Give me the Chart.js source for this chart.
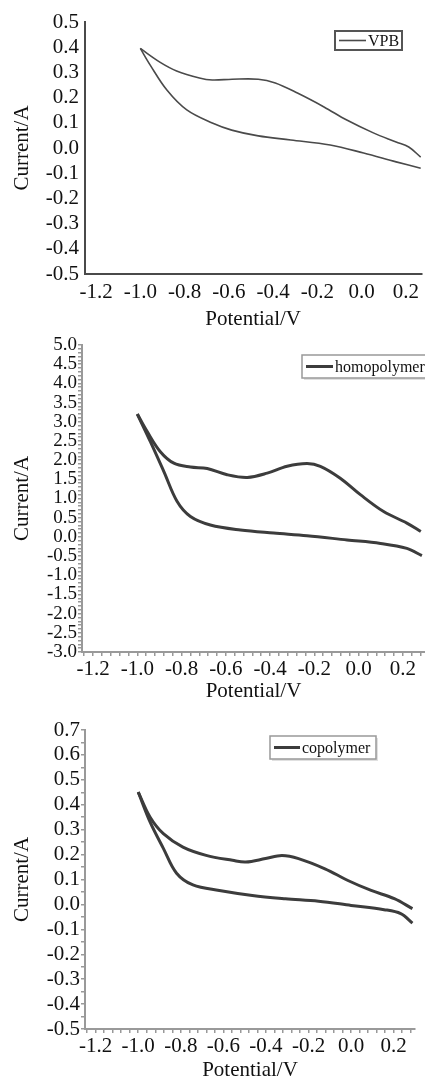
<!DOCTYPE html>
<html>
<head>
<meta charset="utf-8">
<script src="https://cdn.jsdelivr.net/npm/chart.js@4.4.1/dist/chart.umd.min.js"></script>
<style>
html, body { margin: 0; padding: 0; background: #fff; overflow: hidden; width: 425px; height: 1079px; }
canvas { position: absolute; left: 0; }
</style>
</head>
<body>
<canvas id="c1" width="425" height="332" style="top:0px"></canvas>
<canvas id="c2" width="425" height="372" style="top:332px"></canvas>
<canvas id="c3" width="425" height="383" style="top:700px"></canvas>
<script>
// tick labels
const xLabels = [-1.2, -1.0, -0.8, -0.6, -0.4, -0.2, 0.0, 0.2];
const yLabelsVpb = [-0.5, -0.4, -0.3, -0.2, -0.1, 0.0, 0.1, 0.2, 0.3, 0.4, 0.5];
const yLabelsHomo = [-3.0, -2.5, -2.0, -1.5, -1.0, -0.5, 0.0, 0.5, 1.0, 1.5, 2.0, 2.5, 3.0, 3.5, 4.0, 4.5, 5.0];
const yLabelsCo = [-0.5, -0.4, -0.3, -0.2, -0.1, 0.0, 0.1, 0.2, 0.3, 0.4, 0.5, 0.6, 0.7];

// VPB
const vpbUpperX = [-1.0, -0.91, -0.836, -0.733, -0.675, -0.585, -0.467, -0.39, -0.29, -0.17, -0.067, 0.053, 0.156, 0.213, 0.267];
const vpbUpperY = [0.395, 0.34, 0.306, 0.278, 0.27, 0.273, 0.273, 0.258, 0.218, 0.163, 0.111, 0.06, 0.024, 0.004, -0.036];
const vpbLowerX = [-1.0, -0.956, -0.88, -0.79, -0.675, -0.587, -0.467, -0.32, -0.142, 0.009, 0.156, 0.267];
const vpbLowerY = [0.395, 0.33, 0.23, 0.151, 0.099, 0.071, 0.048, 0.032, 0.012, -0.02, -0.055, -0.08];

// homopolymer
const homoUpperX = [-1.0, -0.956, -0.896, -0.835, -0.76, -0.684, -0.594, -0.503, -0.413, -0.323, -0.233, -0.173, -0.083, 0.008, 0.113, 0.218, 0.281];
const homoUpperY = [3.2, 2.75, 2.22, 1.92, 1.82, 1.78, 1.62, 1.55, 1.66, 1.84, 1.91, 1.84, 1.53, 1.1, 0.66, 0.36, 0.14];
const homoLowerX = [-1.0, -0.941, -0.88, -0.82, -0.76, -0.67, -0.534, -0.384, -0.233, -0.052, 0.099, 0.218, 0.286];
const homoLowerY = [3.2, 2.48, 1.7, 0.92, 0.53, 0.31, 0.18, 0.1, 0.03, -0.08, -0.17, -0.3, -0.49];

// copolymer
const coUpperX = [-1.0, -0.944, -0.882, -0.79, -0.681, -0.557, -0.495, -0.402, -0.325, -0.247, -0.123, -0.015, 0.094, 0.203, 0.288];
const coUpperY = [0.451, 0.35, 0.284, 0.23, 0.197, 0.177, 0.17, 0.184, 0.196, 0.184, 0.143, 0.096, 0.056, 0.023, -0.017];
const coLowerX = [-1.0, -0.944, -0.882, -0.82, -0.743, -0.619, -0.464, -0.309, -0.153, 0.0, 0.155, 0.233, 0.288];
const coLowerY = [0.451, 0.33, 0.225, 0.125, 0.078, 0.056, 0.036, 0.023, 0.013, -0.004, -0.021, -0.037, -0.075];

const FONT = '"Liberation Serif", "Times New Roman", serif';

const toPoints = (xs, ys) => xs.map((x, i) => ({ x: x, y: ys[i] }));

function stepTicks(min, max, step) {
    const out = [];
    for (let k = Math.ceil(min / step - 1e-9); k <= Math.floor(max / step + 1e-9); k++) {
        out.push({ value: Math.round(k * step * 1000) / 1000 });
    }
    return out;
}

const isMajor = (list, v) => list.some(m => Math.abs(m - v) < 1e-6);

// legend drawn as a framed box inside the plot
const boxLegend = {
    id: 'boxLegend',
    afterDraw(chart, args, o) {
        const ctx = chart.ctx;
        const ds = chart.data.datasets[0];
        ctx.save();
        if (o.shadow) {
            ctx.fillStyle = 'rgba(0,0,0,0.12)';
            ctx.fillRect(o.x + 2, o.y + 2, o.w, o.h);
        }
        ctx.fillStyle = '#fff';
        ctx.fillRect(o.x, o.y, o.w, o.h);
        ctx.strokeStyle = o.border;
        ctx.lineWidth = o.borderWidth;
        ctx.strokeRect(o.x, o.y, o.w, o.h);
        const cy = o.y + o.h / 2;
        ctx.strokeStyle = ds.borderColor;
        ctx.lineWidth = ds.borderWidth;
        ctx.beginPath();
        ctx.moveTo(o.x + 4, cy);
        ctx.lineTo(o.x + 4 + o.lineLen, cy);
        ctx.stroke();
        ctx.fillStyle = '#111';
        ctx.font = o.fontSize + 'px ' + FONT;
        ctx.textBaseline = 'middle';
        ctx.fillText(ds.label, o.x + 6 + o.lineLen, cy + 1);
        ctx.restore();
    }
};

function drawCV(id, o) {
    const canvas = document.getElementById(id);
    const H = canvas.height;
    const minor = !!o.xMinor;
    const lineStyle = { borderColor: o.lineColor, borderWidth: o.lineWidth, pointRadius: 0, tension: 0.35, fill: false };
    new Chart(canvas, {
        type: 'line',
        data: {
            datasets: [
                Object.assign({ label: o.label, data: toPoints(o.upperX, o.upperY) }, lineStyle),
                Object.assign({ label: o.label, data: toPoints(o.lowerX, o.lowerY) }, lineStyle)
            ]
        },
        options: {
            responsive: false,
            animation: false,
            layout: { padding: { top: o.area.top, right: 425 - o.area.right, left: 0, bottom: 0 } },
            plugins: {
                legend: { display: false },
                tooltip: { enabled: false },
                boxLegend: o.legend
            },
            scales: {
                x: {
                    type: 'linear',
                    min: o.xMin,
                    max: o.xMax,
                    afterBuildTicks: (s) => { s.ticks = minor ? stepTicks(o.xMin, o.xMax, o.xMinor) : xLabels.map(v => ({ value: v })); },
                    afterFit: (s) => { s.height = H - o.area.bottom; },
                    ticks: {
                        autoSkip: false,
                        maxRotation: 0,
                        padding: o.xTickPad,
                        color: '#111',
                        font: { family: FONT, size: 21 },
                        callback: (v) => isMajor(xLabels, v) ? v.toFixed(1) : ''
                    },
                    grid: { display: minor, drawOnChartArea: false, drawTicks: minor, tickLength: 4, color: o.tickColor, lineWidth: 1.5 },
                    border: { display: true, color: o.axisColor, width: 2 },
                    title: { display: true, text: 'Potential/V', color: '#111', font: { family: FONT, size: 21 }, padding: { top: 0, bottom: 0 } }
                },
                y: {
                    type: 'linear',
                    min: o.yLabels[0],
                    max: o.yLabels[o.yLabels.length - 1],
                    afterBuildTicks: (s) => { s.ticks = o.yMinor ? stepTicks(s.min, s.max, o.yMinor) : o.yLabels.map(v => ({ value: v })); },
                    afterFit: (s) => { s.width = o.area.left; },
                    ticks: {
                        autoSkip: false,
                        padding: o.yTickPad,
                        color: '#111',
                        font: { family: FONT, size: o.yFont, lineHeight: 1 },
                        callback: (v) => isMajor(o.yLabels, v) ? v.toFixed(1) : ''
                    },
                    grid: { display: minor, drawOnChartArea: false, drawTicks: minor, tickLength: 4, color: o.tickColor, lineWidth: 1.5 },
                    border: { display: true, color: o.axisColor, width: 2 },
                    title: { display: true, text: 'Current/A', color: '#111', font: { family: FONT, size: 21 }, padding: { top: 10, bottom: 0 } }
                }
            }
        },
        plugins: [boxLegend]
    });
}

drawCV('c1', {
    label: 'VPB',
    upperX: vpbUpperX, upperY: vpbUpperY, lowerX: vpbLowerX, lowerY: vpbLowerY,
    xMin: -1.25, xMax: 0.27, xMinor: 0,
    yLabels: yLabelsVpb, yMinor: 0, yFont: 21,
    area: { left: 85, top: 22, right: 425, bottom: 274 },
    xTickPad: 6, yTickPad: 6,
    lineColor: '#4a4a4a', lineWidth: 1.6, axisColor: '#4a4a4a', tickColor: '#888',
    legend: { x: 335, y: 31, w: 67, h: 19, lineLen: 27, fontSize: 16, border: '#555', borderWidth: 2, shadow: false }
});

drawCV('c2', {
    label: 'homopolymer',
    upperX: homoUpperX, upperY: homoUpperY, lowerX: homoLowerX, lowerY: homoLowerY,
    xMin: -1.25, xMax: 0.3, xMinor: 0.04,
    yLabels: yLabelsHomo, yMinor: 0.1, yFont: 19,
    area: { left: 82, top: 13, right: 425, bottom: 320 },
    xTickPad: 1, yTickPad: 1,
    lineColor: '#3c3c3c', lineWidth: 3, axisColor: '#999', tickColor: '#999',
    legend: { x: 302, y: 23, w: 130, h: 23, lineLen: 27, fontSize: 16, border: '#999', borderWidth: 1.5, shadow: true }
});

drawCV('c3', {
    label: 'copolymer',
    upperX: coUpperX, upperY: coUpperY, lowerX: coLowerX, lowerY: coLowerY,
    xMin: -1.25, xMax: 0.3, xMinor: 0.04,
    yLabels: yLabelsCo, yMinor: 0.05, yFont: 21,
    area: { left: 85, top: 30, right: 415, bottom: 329 },
    xTickPad: 1, yTickPad: 1,
    lineColor: '#3c3c3c', lineWidth: 3, axisColor: '#999', tickColor: '#999',
    legend: { x: 270, y: 36, w: 106, h: 23, lineLen: 26, fontSize: 16, border: '#999', borderWidth: 1.5, shadow: true }
});
</script>
</body>
</html>
